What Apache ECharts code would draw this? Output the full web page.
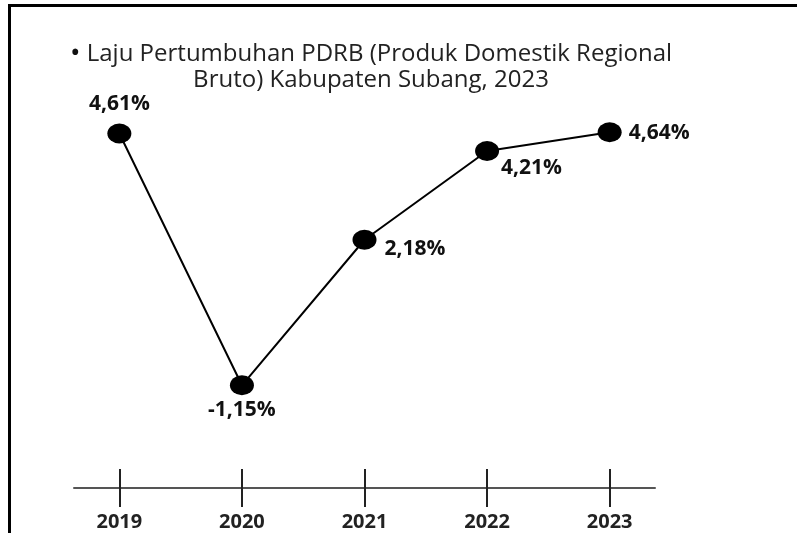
<!DOCTYPE html>
<html>
<head>
<meta charset="utf-8">
<script src="https://cdn.jsdelivr.net/npm/echarts@6/dist/echarts.min.js"></script>
<style>
  html, body { margin: 0; padding: 0; background: #fff; }
  #chart { position: absolute; left: 0; top: 0; width: 797px; height: 533px; }
  #frame { position: absolute; left: 8px; top: 4px; width: 789px; height: 529px;
           border-top: 3px solid #000; border-left: 3px solid #000; box-sizing: border-box; pointer-events: none; }
</style>
</head>
<body>
<div id="chart"></div>
<div id="frame"></div>
<script>
const seriesName = 'Laju Pertumbuhan PDRB (Produk Domestik Regional\nBruto) Kabupaten Subang, 2023';
const years = ['2019', '2020', '2021', '2022', '2023'];
const growth = [4.61, -1.15, 2.18, 4.21, 4.64];

const fmt = v => v.toFixed(2).replace('.', ',') + '%';
const labelFont = { fontFamily: 'Open Sans', fontWeight: 'bold', fontSize: 21, color: '#111' };
const labelPlacement = [
  { position: 'top', distance: 9 },
  { position: 'bottom', distance: 4 },
  { position: 'right', distance: 8, offset: [0, 9] },
  { position: 'right', distance: 2, offset: [0, 17] },
  { position: 'right', distance: 7, offset: [0, 1] }
];
const xNums = years.map(Number);

const chart = echarts.init(document.getElementById('chart'), null, { renderer: 'canvas' });
chart.setOption({
  animation: false,
  backgroundColor: '#fff',
  title: {
    text: '{b|•} ' + seriesName,
    left: 366,
    top: 36,
    textAlign: 'center',
    textStyle: {
      fontFamily: 'Open Sans', fontWeight: 'normal', fontSize: 24, color: '#222', lineHeight: 26, align: 'center',
      rich: { b: { fontFamily: 'Open Sans', fontSize: 28, color: '#111', lineHeight: 26 } }
    }
  },
  grid: { left: 74, right: 142, top: 99, bottom: 45 },
  xAxis: [{
    type: 'value',
    min: 2018.63,
    max: 2023.37,
    splitLine: { show: false },
    axisLine: { show: true, onZero: false, lineStyle: { color: '#555', width: 2 } },
    axisTick: { show: true, customValues: xNums, length: 19, lineStyle: { color: '#222', width: 2 } },
    axisLabel: { show: true, customValues: xNums, margin: 24, formatter: v => String(Math.round(v)),
                 fontFamily: 'Open Sans', fontWeight: 'bold', fontSize: 20, color: '#222' }
  }, {
    type: 'value',
    position: 'bottom',
    min: 2018.63,
    max: 2023.37,
    splitLine: { show: false },
    axisLine: { show: false, onZero: false },
    axisTick: { show: true, inside: true, customValues: xNums, length: 19, lineStyle: { color: '#222', width: 2 } },
    axisLabel: { show: false }
  }],
  yAxis: { type: 'value', min: -3.5, max: 5.4, show: false, splitLine: { show: false } },
  series: [{
    name: seriesName.replace('\n', ' '),
    type: 'line',
    xAxisIndex: 0,
    data: years.map((y, i) => ({
      value: [Number(y), growth[i]],
      label: Object.assign({ show: true, formatter: () => fmt(growth[i]) }, labelFont, labelPlacement[i])
    })),
    symbol: 'circle',
    symbolSize: [24, 20],
    itemStyle: { color: '#000' },
    lineStyle: { color: '#000', width: 2 }
  }]
});
</script>
</body>
</html>
